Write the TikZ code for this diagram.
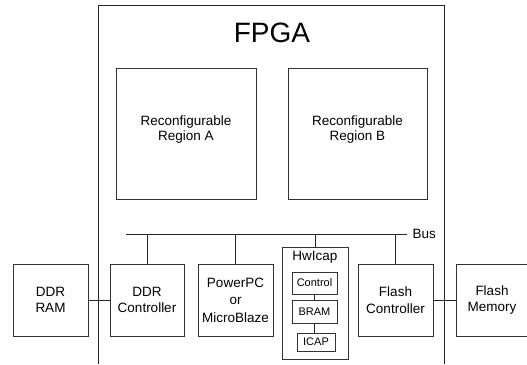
\documentclass[tikz,border=0pt]{standalone}
\usepackage{fontspec}
\setmainfont{Liberation Sans}
\usetikzlibrary{positioning}

\tikzset{
  blockbox/.style={draw=black!80, line width=0.8pt, align=center, inner sep=0pt, font=\fontsize{13.5}{16.5}\selectfont},
  subbox/.style={draw=black!80, line width=0.8pt, inner sep=0pt, font=\fontsize{11}{13}\selectfont},
  wire/.style={draw=black!85, line width=0.8pt}
}

\begin{document}
\begin{tikzpicture}[x=1pt, y=-1pt]
    \useasboundingbox (0,0) rectangle (527,364);

    % FPGA outline (open at the bottom)
    \draw[wire] (98,364) -- (98,5) -- (444,5) -- (444,364);
    \node (fpga) at (272,33) {\fontsize{28}{32}\selectfont FPGA};

    % Reconfigurable regions
    \node[blockbox, minimum width=140pt, minimum height=131pt, font=\fontsize{13.5}{15.5}\selectfont] (regA) at (186,133.5) {};
    \node[blockbox, minimum width=139pt, minimum height=131pt, font=\fontsize{13.5}{15.5}\selectfont] (regB) at (357.5,133.5) {};
    \node[align=center, font=\fontsize{13.5}{15.5}\selectfont] (regAtext) at (regA.center) [yshift=4pt] {Reconfigurable\\Region A};
    \node[align=center, font=\fontsize{13.5}{15.5}\selectfont] (regBtext) at (regB.center) [yshift=4pt] {Reconfigurable\\Region B};

    % Blocks on the bus
    \node[blockbox, minimum width=75pt, minimum height=72pt] (ddrram) at (50.5,300) {DDR\\RAM};
    \node[blockbox, minimum width=74pt, minimum height=72pt] (ddrctrl) at (147,300) {DDR\\Controller};
    \node[blockbox, minimum width=75pt, minimum height=72pt, font=\fontsize{13.5}{17.5}\selectfont] (cpu) at (235.5,300) {PowerPC\\or\\MicroBlaze};
    \node[blockbox, minimum width=75pt, minimum height=72pt] (flashctrl) at (395.5,300) {Flash\\Controller};
    \node[blockbox, minimum width=72pt, minimum height=72pt] (flashmem) at (492,300) {Flash\\Memory};

    % HwIcap core and its parts
    \node[blockbox, minimum width=66pt, minimum height=112pt] (hwicap) at (315,303) {};
    \node[font=\fontsize{13.5}{16}\selectfont] (hwlabel) at (315,257) {HwIcap};
    \node[subbox, minimum width=45pt, minimum height=22pt] (ctrl) at (314.5,283) {Control};
    \node[subbox, minimum width=45pt, minimum height=23pt] (bram) at (314.5,311.5) {BRAM};
    \node[subbox, minimum width=38pt, minimum height=18pt] (icap) at (316,342) {ICAP};
    \draw[wire] (ctrl) -- (bram);
    \draw[wire] (bram) -- (bram |- icap.north);

    % Bus
    \coordinate (busL) at (126,234);
    \coordinate (busR) at (407,234);
    \draw[wire] (busL) -- (busR);
    \node[right=2pt of busR, font=\fontsize{13.5}{16}\selectfont] (buslabel) {Bus};
    \foreach \blk in {ddrctrl, cpu, hwicap, flashctrl} {
      \draw[wire] (\blk.north) -- (\blk.north |- busL);
    }

    % Off-chip links
    \draw[wire] (ddrram) -- (ddrctrl);
    \draw[wire] (flashctrl) -- (flashmem);
\end{tikzpicture}
\end{document}
